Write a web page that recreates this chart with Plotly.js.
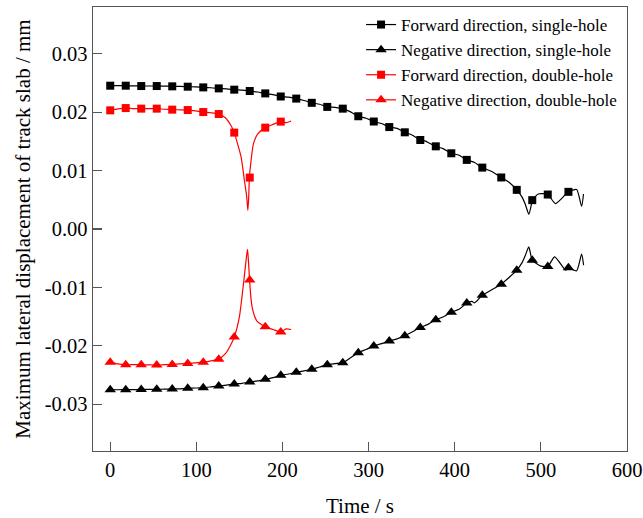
<!DOCTYPE html>
<html>
<head>
<meta charset="utf-8">
<script src="https://cdn.plot.ly/plotly-3.0.1.min.js"></script>
<style>html,body{margin:0;padding:0;background:#fff;}#chart{width:643px;height:518px;}</style>
</head>
<body>
<div id="chart"></div>
<script>
// ---- Data ----
// Marker positions (time, s)
const markerTime = [0, 18, 36, 54, 72, 90, 108, 126, 144, 162, 180, 198, 216, 234, 252, 270, 288, 306, 324, 342, 360, 378, 396, 414, 432, 454, 472, 490, 508, 532];
const markerTimeDouble = [0, 18, 36, 54, 72, 90, 108, 126, 144, 162, 180, 198];

// Forward direction, single-hole (markers)
const fwdSingleMarkers = [0.02453, 0.02453, 0.02447, 0.02447, 0.02442, 0.02436, 0.02424, 0.02407, 0.02385, 0.02362, 0.02321, 0.02268, 0.02232, 0.02160, 0.02090, 0.02060, 0.01930, 0.01840, 0.01745, 0.01655, 0.01523, 0.01415, 0.01296, 0.01183, 0.01051, 0.00882, 0.00670, 0.00494, 0.00590, 0.00636];
// Negative direction, single-hole (markers)
const negSingleMarkers = [-0.02751, -0.02750, -0.02748, -0.02744, -0.02738, -0.02727, -0.02716, -0.02687, -0.02653, -0.02619, -0.02573, -0.02504, -0.02453, -0.02400, -0.02323, -0.02289, -0.02118, -0.02003, -0.01918, -0.01826, -0.01685, -0.01553, -0.01424, -0.01268, -0.01135, -0.00944, -0.00704, -0.00533, -0.00640, -0.00665];
// Forward direction, double-hole (markers)
const fwdDoubleMarkers = [0.02031, 0.02070, 0.02060, 0.02060, 0.02043, 0.02036, 0.02002, 0.01968, 0.01650, 0.00880, 0.01735, 0.01838];
// Negative direction, double-hole (markers)
const negDoubleMarkers = [-0.02282, -0.02323, -0.02323, -0.02328, -0.02318, -0.02301, -0.02279, -0.02228, -0.01850, -0.00875, -0.01673, -0.01764];

// Continuous curves
const fwdSingleLineT = [0, 9, 18, 27, 36, 45, 54, 63, 72, 81, 90, 99, 108, 117, 126, 135, 144, 153, 162, 171, 180, 189, 198, 207, 216, 225, 234, 243, 252, 261, 270, 279, 288, 297, 306, 315, 324, 333, 342, 351, 360, 366, 369, 378, 387, 396, 405, 414, 423, 432, 443, 454, 463, 472, 478, 482, 486, 489, 490, 497, 508, 517, 532, 541.5, 547.3, 549.5];
const fwdSingleLineY = [0.02453, 0.02455, 0.02453, 0.02450, 0.02447, 0.02448, 0.02447, 0.02446, 0.02442, 0.02441, 0.02436, 0.02433, 0.02424, 0.02418, 0.02407, 0.02398, 0.02385, 0.02376, 0.02362, 0.02345, 0.02321, 0.02300, 0.02268, 0.02258, 0.02232, 0.02200, 0.02160, 0.02135, 0.02090, 0.02082, 0.02060, 0.02005, 0.01930, 0.01895, 0.01840, 0.01805, 0.01745, 0.01722, 0.01655, 0.01605, 0.01523, 0.01505, 0.01480, 0.01415, 0.01372, 0.01296, 0.01262, 0.01183, 0.01138, 0.01051, 0.00985, 0.00882, 0.00800, 0.00670, 0.00550, 0.00420, 0.00253, 0.00420, 0.00494, 0.00600, 0.00590, 0.00436, 0.00636, 0.00675, 0.00390, 0.00600];

const negSingleLineT = [0, 9, 18, 27, 36, 45, 54, 63, 72, 81, 90, 99, 108, 117, 126, 135, 144, 153, 162, 171, 180, 189, 198, 207, 216, 225, 234, 243, 252, 261, 270, 279, 288, 297, 306, 315, 324, 333, 342, 351, 360, 369, 378, 387, 396, 405, 414, 420, 423, 432, 443, 454, 463, 472, 478, 482, 486, 490, 500, 508, 516, 528.7, 532, 541.5, 547.3, 549.6];
const negSingleLineY = [-0.02751, -0.02752, -0.02750, -0.02749, -0.02748, -0.02745, -0.02744, -0.02742, -0.02738, -0.02735, -0.02727, -0.02722, -0.02716, -0.02702, -0.02687, -0.02672, -0.02653, -0.02641, -0.02619, -0.02600, -0.02573, -0.02545, -0.02504, -0.02482, -0.02453, -0.02428, -0.02400, -0.02362, -0.02323, -0.02305, -0.02289, -0.02205, -0.02118, -0.02062, -0.02003, -0.01962, -0.01918, -0.01880, -0.01826, -0.01760, -0.01685, -0.01632, -0.01553, -0.01502, -0.01424, -0.01375, -0.01268, -0.01240, -0.01265, -0.01135, -0.01040, -0.00944, -0.00830, -0.00704, -0.00580, -0.00450, -0.00306, -0.00533, -0.00636, -0.00640, -0.00477, -0.00704, -0.00665, -0.00716, -0.00430, -0.00620];

const fwdDoubleLineT = [0, 9, 18, 27, 36, 45, 54, 63, 72, 81, 90, 99, 108, 117, 126, 134, 140, 144, 148, 152, 155.8, 158.5, 159.8, 160.8, 161.6, 163.6, 166.3, 171.3, 180, 189, 198, 204, 210];
const fwdDoubleLineY = [0.02031, 0.02055, 0.02070, 0.02062, 0.02060, 0.02060, 0.02060, 0.02050, 0.02043, 0.02040, 0.02036, 0.02022, 0.02002, 0.01990, 0.01968, 0.01900, 0.01775, 0.01650, 0.01450, 0.01230, 0.00830, 0.00550, 0.00320, 0.00550, 0.00880, 0.01180, 0.01460, 0.01630, 0.01735, 0.01790, 0.01838, 0.01820, 0.01848];

const negDoubleLineT = [0, 9, 18, 27, 36, 45, 54, 63, 72, 81, 90, 99, 108, 117, 126, 134, 140, 144, 150, 155, 158, 159.4, 160.5, 161.8, 163.5, 165.5, 170, 173.3, 180, 189, 198, 204, 210];
const negDoubleLineY = [-0.02282, -0.02310, -0.02323, -0.02323, -0.02323, -0.02326, -0.02328, -0.02323, -0.02318, -0.02310, -0.02301, -0.02292, -0.02279, -0.02258, -0.02228, -0.02130, -0.01980, -0.01850, -0.01500, -0.00900, -0.00500, -0.00350, -0.00550, -0.00875, -0.01200, -0.01388, -0.01570, -0.01615, -0.01673, -0.01720, -0.01764, -0.01710, -0.01720];

const seriesNames = ['Forward direction, single-hole', 'Negative direction, single-hole', 'Forward direction, double-hole', 'Negative direction, double-hole'];
const yTickVals = [-0.03, -0.02, -0.01, 0, 0.01, 0.02, 0.03];
const yTickText = ['-0.03', '-0.02', '-0.01', '0.00', '0.01', '0.02', '0.03'];
const xTickVals = [0, 100, 200, 300, 400, 500, 600];

// ---- Styles ----
const BLACK = '#000000', RED = '#ff0000';
const LW = 1.2;
const SQ = 8, TRI = 10;

function lineTrace(x, y, color, group) {
  return {x: x, y: y, type: 'scatter', mode: 'lines', line: {color: color, width: LW, shape: 'spline', smoothing: 0.6},
          showlegend: false, legendgroup: group, hoverinfo: 'skip'};
}
function markerTrace(x, y, color, symbol, size, group) {
  return {x: x, y: y, type: 'scatter', mode: 'markers', marker: {color: color, symbol: symbol, size: size},
          showlegend: false, legendgroup: group};
}
function legendTrace(name, color, symbol, size, group) {
  return {x: [null], y: [null], type: 'scatter', mode: 'lines+markers', name: name,
          line: {color: color, width: LW}, marker: {color: color, symbol: symbol, size: size}, legendgroup: group};
}

const data = [
  lineTrace(fwdSingleLineT, fwdSingleLineY, BLACK, 'a'),
  markerTrace(markerTime, fwdSingleMarkers, BLACK, 'square', SQ, 'a'),
  lineTrace(negSingleLineT, negSingleLineY, BLACK, 'b'),
  markerTrace(markerTime, negSingleMarkers, BLACK, 'triangle-up', TRI, 'b'),
  lineTrace(fwdDoubleLineT, fwdDoubleLineY, RED, 'c'),
  markerTrace(markerTimeDouble, fwdDoubleMarkers, RED, 'square', SQ, 'c'),
  lineTrace(negDoubleLineT, negDoubleLineY, RED, 'd'),
  markerTrace(markerTimeDouble, negDoubleMarkers, RED, 'triangle-up', TRI, 'd'),
  legendTrace(seriesNames[0], BLACK, 'square', SQ, 'a'),
  legendTrace(seriesNames[1], BLACK, 'triangle-up', TRI, 'b'),
  legendTrace(seriesNames[2], RED, 'square', SQ, 'c'),
  legendTrace(seriesNames[3], RED, 'triangle-up', TRI, 'd')
];

const FONT = "'Liberation Serif', 'Times New Roman', serif";
const layout = {
  width: 643, height: 518,
  margin: {l: 93, r: 16, t: 7, b: 67, pad: 0},
  paper_bgcolor: '#ffffff', plot_bgcolor: '#ffffff',
  font: {family: FONT, color: '#000', size: 20.5},
  showlegend: true,
  legend: {x: 0.502, y: 1, xanchor: 'left', yanchor: 'top', bgcolor: 'rgba(0,0,0,0)',
           font: {family: FONT, size: 17, color: '#000'}, tracegroupgap: 0, traceorder: 'normal'},
  xaxis: {
    range: [-20, 600], tickmode: 'array', tickvals: xTickVals,
    ticks: 'inside', ticklen: 9, tickwidth: 1.2, tickcolor: '#555',
    showline: true, linecolor: '#555', linewidth: 1.4, mirror: true,
    showgrid: false, zeroline: false,
    tickfont: {family: FONT, size: 20.5, color: '#000'},
    title: {text: 'Time / s', font: {family: FONT, size: 21, color: '#000'}, standoff: 18}
  },
  yaxis: {
    range: [-0.038, 0.038], tickmode: 'array', tickvals: yTickVals, ticktext: yTickText,
    ticks: 'inside', ticklen: 9, tickwidth: 1.2, tickcolor: '#555',
    showline: true, linecolor: '#555', linewidth: 1.4, mirror: true,
    showgrid: false, zeroline: false,
    tickfont: {family: FONT, size: 20.5, color: '#000'},
    title: {text: 'Maximum lateral displacement of track slab / mm', font: {family: FONT, size: 21, color: '#000'}, standoff: 8}
  }
};

Plotly.newPlot('chart', data, layout, {displayModeBar: false, staticPlot: true});
</script>
</body>
</html>
